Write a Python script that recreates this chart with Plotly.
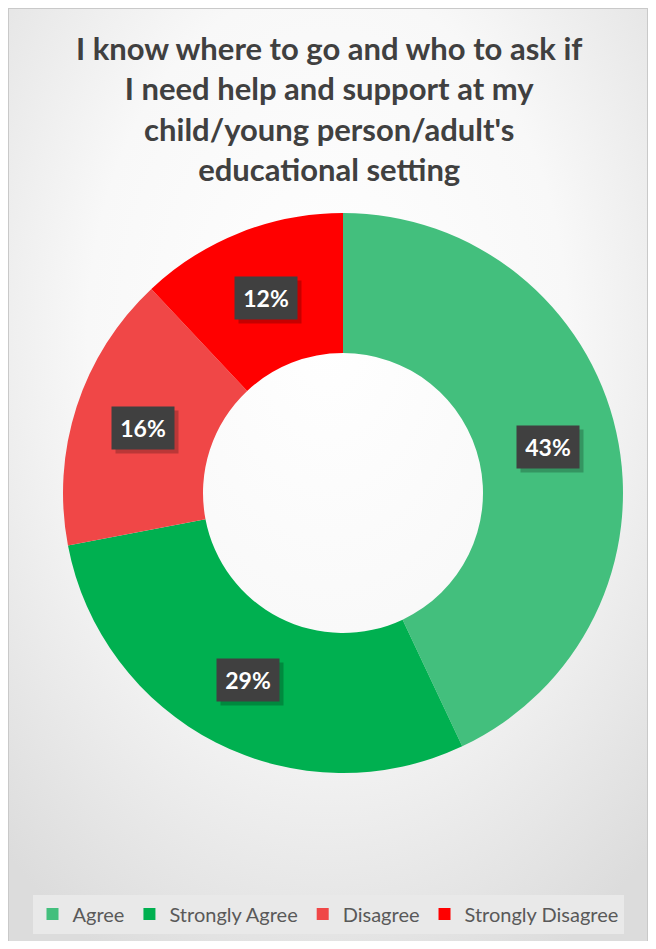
import base64
import math
import plotly.graph_objects as go

labels = ["Agree", "Strongly Agree", "Disagree", "Strongly Disagree"]
values = [43, 29, 16, 12]
colors = ["#43BF7D", "#00B050", "#F04747", "#FF0000"]

title = ("I know where to go and who to ask if<br>I need help and support at my<br>"
         "child/young person/adult's<br>educational setting")

# the page puts the plot 8px in from the window edge
OFF = 8
W, H = 640, 933
# donut placement (window pixels)
cx, cy, R = 343 - OFF, 493 - OFF, 280
hole = 0.5

# soft radial background like the Excel chart area
svg = ('<svg xmlns="http://www.w3.org/2000/svg" width="640" height="933">'
       '<defs><radialGradient id="g" cx="50%" cy="35%" r="75%">'
       '<stop offset="0%" stop-color="#ffffff"/><stop offset="50%" stop-color="#f8f8f8"/>'
       '<stop offset="100%" stop-color="#dcdcdc"/></radialGradient></defs>'
       '<rect width="640" height="933" fill="url(#g)"/></svg>')
bg = "data:image/svg+xml;base64," + base64.b64encode(svg.encode()).decode()

fig = go.Figure(go.Pie(
    labels=labels, values=values, hole=hole, sort=False,
    direction="clockwise", rotation=0,
    marker=dict(colors=colors, line=dict(width=0)),
    textinfo="none", hoverinfo="label+percent",
    domain=dict(x=[(cx - R) / W, (cx + R) / W],
                y=[(H - cy - R) / H, (H - cy + R) / H]),
))

# percentage labels in dark boxes at the middle of each ring segment
total = sum(values)
r_mid = R * (1 + hole) / 2
cum = 0
for v in values:
    ang = math.radians((cum + v / 2) / total * 360)
    cum += v
    x = (cx + r_mid * math.sin(ang)) / W
    y = (H - cy + r_mid * math.cos(ang)) / H
    txt = "<b>%d%%</b>" % round(v / total * 100)
    # shadow
    fig.add_annotation(x=x, y=y, xref="paper", yref="paper", text=" ", showarrow=False,
                       xanchor="center", yanchor="middle",
                       width=46, height=26, xshift=4, yshift=-4,
                       bgcolor="rgba(0,0,0,0.22)", borderpad=8,
                       font=dict(family="Lato", size=23))
    fig.add_annotation(x=x, y=y, xref="paper", yref="paper", text=txt,
                       showarrow=False, xanchor="center", yanchor="middle",
                       width=46, height=26,
                       bgcolor="#404040", borderpad=8,
                       font=dict(family="Lato", size=23, color="white"))

# chart title
fig.add_annotation(x=(329 - OFF) / W, y=1 - (109 - OFF) / H, xref="paper", yref="paper",
                   xanchor="center", yanchor="middle", showarrow=False,
                   text="<b>" + title + "</b>",
                   font=dict(family="Lato", size=31, color="#404040"))

fig.update_layout(
    width=W, height=H,
    margin=dict(l=0, r=0, t=0, b=0),
    paper_bgcolor="white",
    showlegend=True,
    legend=dict(orientation="h", x=(328 - OFF) / W, xanchor="center",
                y=(H - (914 - OFF)) / H, yanchor="middle",
                bgcolor="#e9e9e9", font=dict(family="Lato", size=20, color="#595959"),
                itemwidth=30, traceorder="normal"),
    images=[dict(source=bg, xref="paper", yref="paper", x=0, y=1, sizex=1, sizey=1,
                 sizing="stretch", layer="below")],
    shapes=[dict(type="rect", xref="paper", yref="paper",
                 x0=0, x1=1, y0=-0.01, y1=1,
                 line=dict(color="#c9c9c9", width=2))],
)

fig.write_html("out.html")
